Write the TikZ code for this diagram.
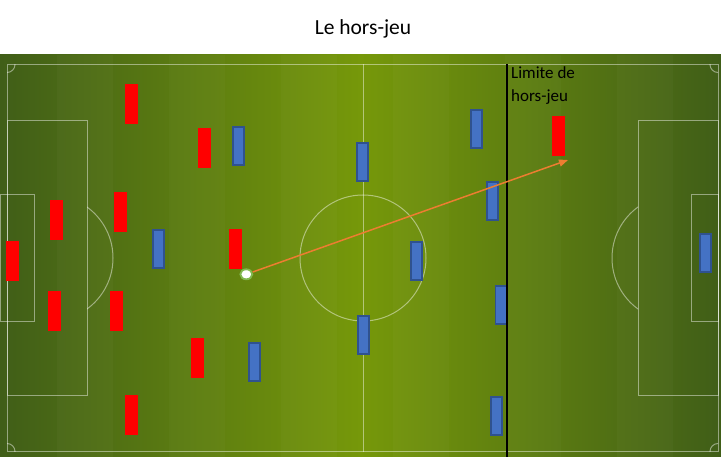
\documentclass[tikz,border=0pt]{standalone}
\usepackage{fontspec}
\setmainfont{Carlito}
\usetikzlibrary{positioning,shapes.geometric,arrows.meta}
\definecolor{grassdark}{RGB}{64,94,24}
\definecolor{grasslight}{RGB}{118,152,10}
\definecolor{ballrim}{RGB}{130,185,80}
\definecolor{passorange}{RGB}{237,125,49}
\definecolor{teamblue}{RGB}{68,114,196}
\definecolor{blueedge}{RGB}{47,82,143}
\tikzset{redp/.style={
        fill=red, 
        minimum width=12.7pt, 
        minimum height=39.7pt,  
        inner sep=0pt } }
\tikzset{bluep/.style={
        draw=blueedge, 
        fill=teamblue, 
        line width=1.4pt,
        minimum width=11pt, 
        minimum height=38pt,  
        inner sep=0pt } }
\tikzset{pitch/.style={
        draw=white, 
        draw opacity=0.45, 
        line width=1pt } }
\tikzset{lab/.style={
        font=\fontsize{17}{20}\selectfont, 
        inner sep=0pt } }

\begin{document}
\begin{tikzpicture}[x=1pt,y=-1pt]
\useasboundingbox (0,0) rectangle (721,457);

% title
\node[font=\fontsize{21.5}{24}\selectfont, anchor=base, inner sep=0pt] (title) at (363,34.7) {Le hors-jeu};

% grass
\shade[left color=grassdark, right color=grassdark, middle color=grasslight] (0,55) rectangle (721,457);
\foreach \sx in {57,169,281,393,505,617}
  \fill[white, opacity=0.025] (\sx,55) rectangle ++(56,402);

% pitch lines
\draw[pitch] (7,64.5) rectangle (718,451.5);
\draw[pitch] (363,64.5) -- (363,451.5);
\draw[pitch] (363,258) circle[radius=63];
\draw[pitch] (7,120.5) rectangle (87,395.5);
\draw[pitch] (0,194.5) rectangle (34.7,321.5);
\draw[pitch] (718,120.5) rectangle (638,395.5);
\draw[pitch] (718,194.5) rectangle (691,321.5);
\begin{scope}
  \clip (87,55) rectangle (721,457);
  \draw[pitch] (50,258) circle[radius=63];
\end{scope}
\begin{scope}
  \clip (0,55) rectangle (638,457);
  \draw[pitch] (675,258) circle[radius=63];
\end{scope}
\begin{scope}
  \clip (7,64.5) rectangle (718,451.5);
  \foreach \cx/\cy in {7/64.5,718/64.5,7/451.5,718/451.5}
    \draw[pitch] (\cx,\cy) circle[radius=8];
\end{scope}

% red team
\node[redp] (r1) at (131.5,104) {};
\node[redp] (r2) at (204.5,148) {};
\node[redp] (r3) at (56.5,220) {};
\node[redp] (r4) at (120.5,212) {};
\node[redp] (r5) at (235.5,249) {};
\node[redp] (r6) at (12.5,261) {};
\node[redp] (r7) at (54.5,311) {};
\node[redp] (r8) at (116.5,311) {};
\node[redp] (r9) at (197.5,358) {};
\node[redp] (r10) at (131.5,415) {};
\node[redp] (r11) at (558.5,136) {};

% blue team
\node[bluep] (b1) at (238.5,146) {};
\node[bluep] (b2) at (158.5,249) {};
\node[bluep] (b3) at (254.5,362) {};
\node[bluep] (b4) at (362.5,162) {};
\node[bluep] (b5) at (476.5,129) {};
\node[bluep] (b6) at (492.5,201) {};
\node[bluep] (b7) at (416.5,261) {};
\node[bluep] (b8) at (363.5,335) {};
\node[bluep] (b9) at (501,305) {};
\node[bluep] (b10) at (496.5,416) {};
\node[bluep] (b11) at (705.5,253) {};

% offside line
\coordinate (offtop) at (507,64);
\coordinate (offbot) at (507,457);
\draw[line width=2pt] (offtop) -- (offbot);
\node[lab, anchor=base west] (lim1) at (511,78.5) {Limite de};
\node[lab, anchor=base west] (lim2) at ([yshift=-23pt]lim1.base west) {hors-jeu};

% pass
\node[ellipse, draw=ballrim, fill=white, line width=1.8pt, minimum width=12pt, minimum height=10pt, inner sep=0pt] (ball) at (246.3,274.3) {};
\coordinate (target) at (568,160);
\draw[passorange, line width=1.5pt, -{Triangle[length=9pt,width=7pt]}] (ball) -- (target);
\end{tikzpicture}
\end{document}
